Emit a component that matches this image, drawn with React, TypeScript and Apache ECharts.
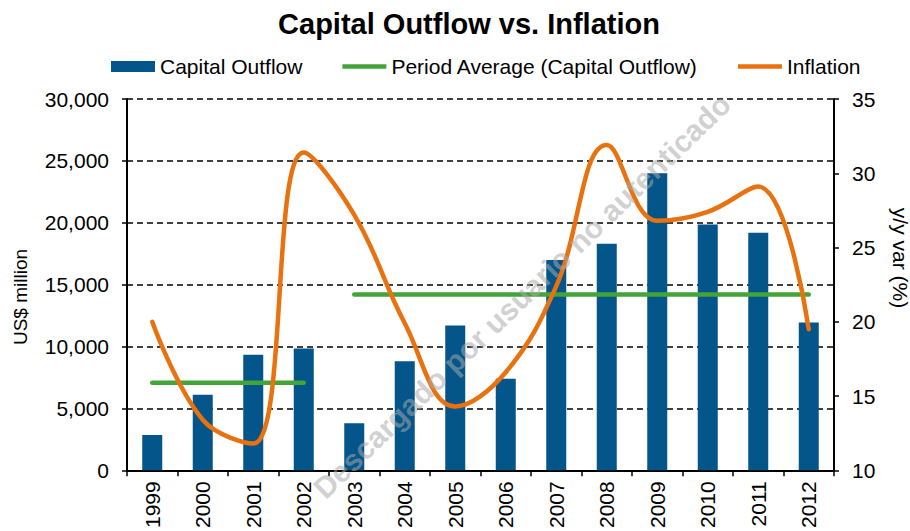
import React, { useEffect, useRef } from "react";
import * as echarts from "echarts";

const years = ["1999", "2000", "2001", "2002", "2003", "2004", "2005", "2006", "2007", "2008", "2009", "2010", "2011", "2012"];
const capitalOutflow = [2850, 6100, 9330, 9850, 3800, 8800, 11700, 7400, 17000, 18300, 24000, 19850, 19200, 11950];
const periodAvg1 = [7070, 7070, 7070, 7070, null, null, null, null, null, null, null, null, null, null];
const periodAvg2 = [null, null, null, null, 14200, 14200, 14200, 14200, 14200, 14200, 14200, 14200, 14200, 14200];
const inflation = [20.0, 13.4, 11.8, 31.4, 27.2, 19.9, 14.3, 16.6, 22.4, 31.9, 26.8, 27.4, 29.1, 19.5];
const leftTicks = { min: 0, max: 30000, interval: 5000 };
const rightTicks = { min: 10, max: 35, interval: 5 };

const FONT = "Liberation Sans, Arial, sans-serif";
const BLUE = "#03558a";
const GREEN = "#43a43a";
const ORANGE = "#e8720f";
const AVG_NAME = "Period Average (Capital Outflow)";
const LINE_ICON = "path://M0,0L100,0L100,10L0,10Z";

export default function App() {
  const ref = useRef<HTMLDivElement>(null);
  useEffect(() => {
    if (!ref.current) return;
    const chart = echarts.init(ref.current, null, { renderer: "svg" });
    chart.setOption({
      animation: false,
      backgroundColor: "#ffffff",
      textStyle: { fontFamily: FONT },
      title: {
        text: "Capital Outflow vs. Inflation",
        left: 464,
        textAlign: "center",
        top: 4,
        textStyle: { fontFamily: FONT, fontSize: 29, fontWeight: "bold", color: "#000" },
      },
      legend: {
        left: 106,
        top: 51,
        itemWidth: 44,
        itemHeight: 11,
        itemGap: 40,
        textStyle: { fontFamily: FONT, fontSize: 21, color: "#000" },
        data: [
          { name: "Capital Outflow", icon: "rect" },
          { name: AVG_NAME, icon: LINE_ICON },
          { name: "Inflation", icon: LINE_ICON },
        ],
      },
      grid: { left: 127, right: 76, top: 99, bottom: 60, containLabel: false },
      xAxis: {
        type: "category",
        data: years,
        boundaryGap: true,
        axisLine: { lineStyle: { color: "#000", width: 2 } },
        axisTick: { show: true, length: 6, inside: false, alignWithLabel: false, lineStyle: { color: "#000", width: 1.5 } },
        axisLabel: { rotate: 90, fontSize: 21, color: "#000", margin: 11, fontFamily: FONT },
      },
      yAxis: [
        {
          type: "value",
          min: leftTicks.min,
          max: leftTicks.max,
          interval: leftTicks.interval,
          axisLine: { show: true, lineStyle: { color: "#000", width: 2 } },
          axisTick: { show: true, length: 5, lineStyle: { color: "#000", width: 1.5 } },
          axisLabel: {
            fontSize: 21,
            color: "#000",
            margin: 18,
            fontFamily: FONT,
            formatter: (v: number) => v.toLocaleString("en-US"),
          },
          splitLine: { show: true, lineStyle: { color: "#000", width: 1.5, type: [6, 4] } },
        },
        {
          type: "value",
          min: rightTicks.min,
          max: rightTicks.max,
          interval: rightTicks.interval,
          position: "right",
          axisLine: { show: true, lineStyle: { color: "#000", width: 2 } },
          axisTick: { show: true, length: 5, lineStyle: { color: "#000", width: 1.5 } },
          axisLabel: { fontSize: 21, color: "#000", margin: 18, fontFamily: FONT },
          splitLine: { show: false },
        },
      ],
      graphic: [
        {
          type: "text",
          x: 20,
          y: 297,
          rotation: Math.PI / 2,
          style: { text: "US$ million", fontSize: 19, fontFamily: FONT, fill: "#000", align: "center", verticalAlign: "middle" },
        },
        {
          type: "text",
          x: 900,
          y: 258,
          rotation: -Math.PI / 2,
          style: { text: "y/y var (%)", fontSize: 21, fontFamily: FONT, fill: "#000", align: "center", verticalAlign: "middle" },
        },
        {
          type: "text",
          x: 522,
          y: 296,
          rotation: (44 * Math.PI) / 180,
          z: 100,
          style: {
            text: "Descargado por usuario no autenticado",
            fontSize: 30,
            fontWeight: "bold",
            fontFamily: FONT,
            fill: "rgba(170,170,170,0.55)",
            align: "center",
            verticalAlign: "middle",
          },
        },
      ],
      series: [
        {
          name: "Capital Outflow",
          type: "bar",
          data: capitalOutflow,
          barWidth: 20,
          itemStyle: { color: BLUE },
          yAxisIndex: 0,
        },
        {
          name: AVG_NAME,
          type: "line",
          data: periodAvg1,
          yAxisIndex: 0,
          showSymbol: false,
          symbol: "none",
          lineStyle: { color: GREEN, width: 4.5, cap: "round" },
          itemStyle: { color: GREEN },
        },
        {
          name: AVG_NAME,
          type: "line",
          data: periodAvg2,
          yAxisIndex: 0,
          showSymbol: false,
          symbol: "none",
          lineStyle: { color: GREEN, width: 4.5, cap: "round" },
          itemStyle: { color: GREEN },
        },
        {
          name: "Inflation",
          type: "line",
          data: inflation,
          yAxisIndex: 1,
          smooth: 0.4,
          showSymbol: false,
          symbol: "none",
          lineStyle: { color: ORANGE, width: 4.5, cap: "round" },
          itemStyle: { color: ORANGE },
        },
      ],
    });
    return () => chart.dispose();
  }, []);
  return <div ref={ref} style={{ width: 910, height: 531, position: "absolute", left: 0, top: 0 }} />;
}
